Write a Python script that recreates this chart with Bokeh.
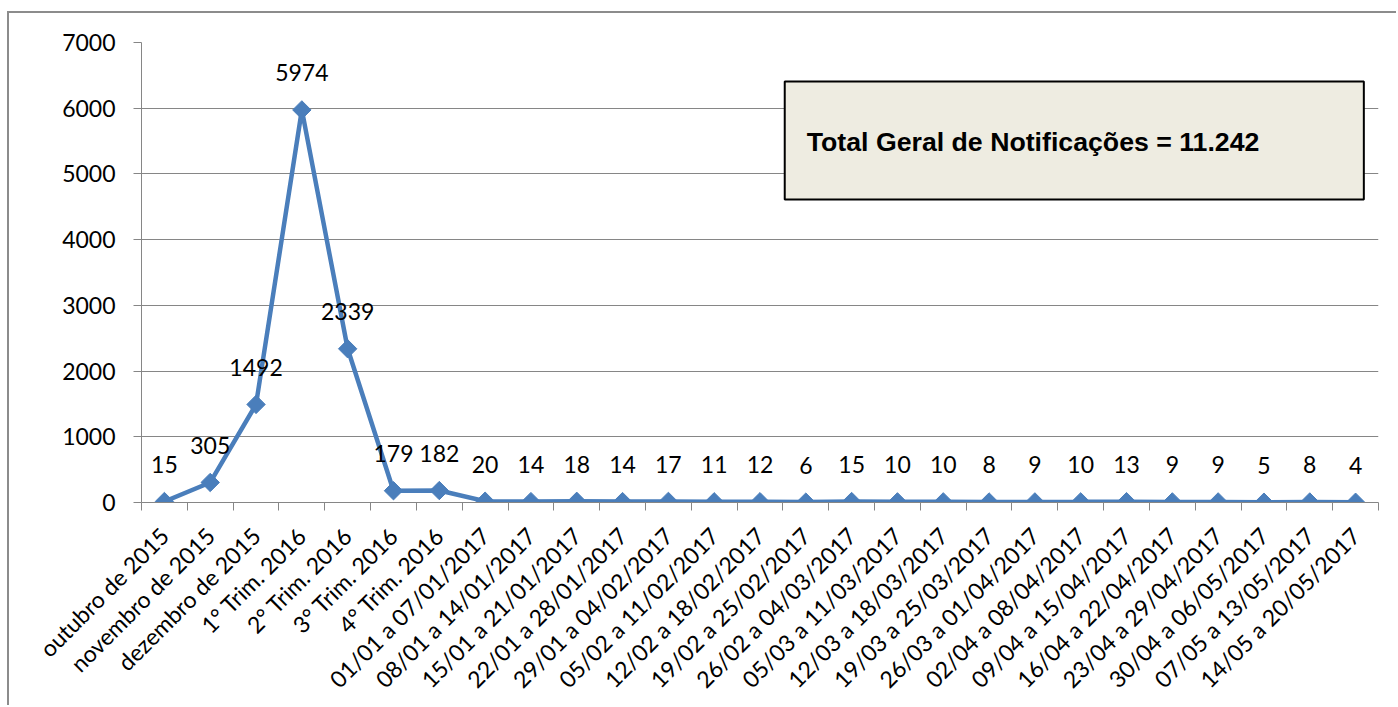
import math
from bokeh.plotting import figure
from bokeh.models import ColumnDataSource, FixedTicker, Range1d, BoxAnnotation, Label
from bokeh.core.properties import value
from bokeh.embed import file_html
from bokeh.resources import INLINE

categories = [
    "outubro de 2015", "novembro de 2015", "dezembro de 2015",
    "1° Trim. 2016", "2° Trim. 2016", "3° Trim. 2016", "4° Trim. 2016",
    "01/01 a 07/01/2017", "08/01 a 14/01/2017", "15/01 a 21/01/2017",
    "22/01 a 28/01/2017", "29/01 a 04/02/2017", "05/02 a 11/02/2017",
    "12/02 a 18/02/2017", "19/02 a 25/02/2017", "26/02 a 04/03/2017",
    "05/03 a 11/03/2017", "12/03 a 18/03/2017", "19/03 a 25/03/2017",
    "26/03 a 01/04/2017", "02/04 a 08/04/2017", "09/04 a 15/04/2017",
    "16/04 a 22/04/2017", "23/04 a 29/04/2017", "30/04 a 06/05/2017",
    "07/05 a 13/05/2017", "14/05 a 20/05/2017",
]
notificacoes = [15, 305, 1492, 5974, 2339, 179, 182,
                20, 14, 18, 14, 17, 11, 12, 6, 15, 10, 10, 8, 9, 10, 13, 9, 9, 5, 8, 4]
y_ticks = [0, 1000, 2000, 3000, 4000, 5000, 6000, 7000]
box_text = "Total Geral de Notificações = 11.242"

n = len(categories)
xs = [i + 0.5 for i in range(n)]
src = ColumnDataSource(dict(x=xs, y=notificacoes, lab=[str(v) for v in notificacoes]))

FONT = "Lato"
BLUE = "#4a7ebb"
GRID = "#868686"

p = figure(width=1389, height=694, output_backend="svg", toolbar_location=None,
           x_range=Range1d(0, n), y_range=Range1d(0, 7000),
           min_border_left=132, min_border_top=29, min_border_bottom=205, min_border_right=20)
p.styles = {"border-left": "2px solid #8c8c8c", "border-top": "2px solid #8c8c8c",
            "margin-top": "11px", "margin-left": "7px"}
p.outline_line_color = None
p.background_fill_color = "white"
p.border_fill_color = "white"

# axes
p.xaxis.ticker = FixedTicker(ticks=xs, minor_ticks=list(range(n + 1)))
p.xaxis.major_label_overrides = {x: c for x, c in zip(xs, categories)}
p.xaxis.major_label_orientation = math.pi / 4
p.xaxis.major_tick_in = 0
p.xaxis.major_tick_out = 0
p.xaxis.minor_tick_in = 0
p.xaxis.minor_tick_out = 8
p.xaxis.minor_tick_line_color = GRID
p.xaxis.axis_line_color = GRID
p.xaxis.major_label_text_font = FONT
p.xaxis.major_label_text_font_size = "23px"
p.xaxis.major_label_text_color = "black"
p.xaxis.major_label_standoff = 21

p.yaxis.ticker = FixedTicker(ticks=y_ticks)
p.yaxis.major_tick_in = 0
p.yaxis.major_tick_out = 8
p.yaxis.minor_tick_line_color = None
p.yaxis.major_tick_line_color = GRID
p.yaxis.axis_line_color = GRID
p.yaxis.major_label_text_font = FONT
p.yaxis.major_label_text_font_size = "23px"
p.yaxis.major_label_text_color = "black"
p.yaxis.major_label_standoff = 18

p.xgrid.grid_line_color = None
p.ygrid.ticker = FixedTicker(ticks=y_ticks)
p.ygrid.grid_line_color = GRID
p.ygrid.grid_line_width = 1

# series
p.line("x", "y", source=src, line_color=BLUE, line_width=4.5)
p.scatter("x", "y", source=src, marker="square", angle=math.pi / 4, size=13,
          fill_color=BLUE, line_color=BLUE)
p.text("x", "y", text="lab", source=src, text_align="center", text_baseline="middle",
       y_offset=-37, text_font=value(FONT), text_font_size="23px", text_color="black")

# text box
box = BoxAnnotation(left=14.04, right=26.68, top=6407, bottom=4611,
                    fill_color="#EEECE1", fill_alpha=1, line_color="black",
                    line_alpha=1, line_width=2)
p.add_layout(box)
p.add_layout(Label(x=14.52, y=5493, text=box_text, text_baseline="middle",
                   text_font="Liberation Sans", text_font_style="bold",
                   text_font_size="26.7px", text_color="black"))

open("out.html", "w").write(file_html(p, INLINE))
